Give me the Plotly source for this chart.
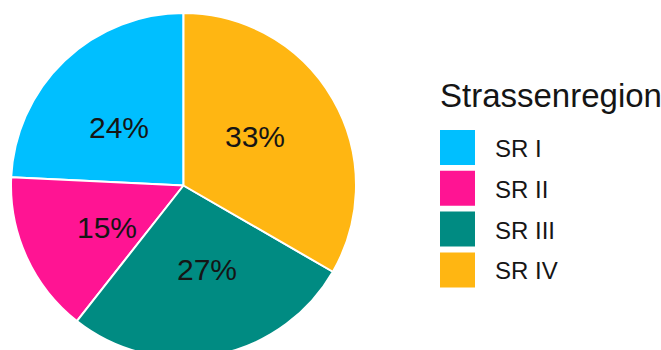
import math
import plotly.graph_objects as go

categories = ["SR I", "SR II", "SR III", "SR IV"]
values = [24, 15, 27, 33]
colors = ["#00BFFF", "#FF1493", "#008B82", "#FFB612"]
legend_title = "Strassenregion"

W, H = 661, 358
MT, MB = 13, 0
PIE_W = 367
FONT = "Liberation Sans, Arial, sans-serif"
TXT = "#151515"

total = sum(values)

def px_x(px):
    return px / W

def px_y(py):
    return 1 - (py - MT) / (H - MT - MB)

fig = go.Figure(
    go.Pie(
        labels=categories,
        values=values,
        sort=False,
        direction="counterclockwise",
        # first slice ends at 12 o'clock, slices run counterclockwise
        rotation=-values[0] / total * 360,
        marker=dict(colors=colors, line=dict(color="white", width=2)),
        textinfo="none",
        domain=dict(x=[0, PIE_W / W], y=[0, 1]),
        hoverinfo="skip",
        showlegend=False,
    )
)

# percentage labels at half radius, mid-angle of each slice
R = min(PIE_W, H - MT - MB) / 2
cx, cy = PIE_W / 2 / W, 0.5
label_r = 0.505 * R
angle_offset = -4.5
annotations = []
cum = 0
for v in values:
    mid = 360 - (cum + v / 2) / total * 360 + angle_offset
    cum += v
    a = math.radians(mid)
    annotations.append(dict(
        x=cx + label_r * math.sin(a) / W,
        y=cy + label_r * math.cos(a) / (H - MT - MB),
        xref="paper", yref="paper", showarrow=False,
        xanchor="center", yanchor="middle",
        text=f"{round(v / total * 100)}%",
        font=dict(family=FONT, size=30, color=TXT),
    ))

shapes = []
annotations.append(dict(
    x=px_x(438), y=px_y(95), xref="paper", yref="paper",
    text=legend_title, showarrow=False, xanchor="left", yanchor="middle",
    font=dict(family=FONT, size=33, color=TXT),
))
top0, step, sw = 130, 40.8, 35
for i, (cat, col) in enumerate(zip(categories, colors)):
    y0 = top0 + i * step
    shapes.append(dict(
        type="rect", xref="paper", yref="paper",
        x0=px_x(440), x1=px_x(475), y0=px_y(y0), y1=px_y(y0 + sw),
        fillcolor=col, line=dict(width=0),
    ))
    annotations.append(dict(
        x=px_x(493), y=px_y(y0 + sw / 2 + 1), xref="paper", yref="paper",
        text=cat, showarrow=False, xanchor="left", yanchor="middle",
        font=dict(family=FONT, size=24, color=TXT),
    ))

fig.update_layout(
    width=W, height=H,
    margin=dict(l=0, r=0, t=MT, b=MB),
    paper_bgcolor="white", plot_bgcolor="white",
    shapes=shapes, annotations=annotations,
)

fig.write_html("out.html")
